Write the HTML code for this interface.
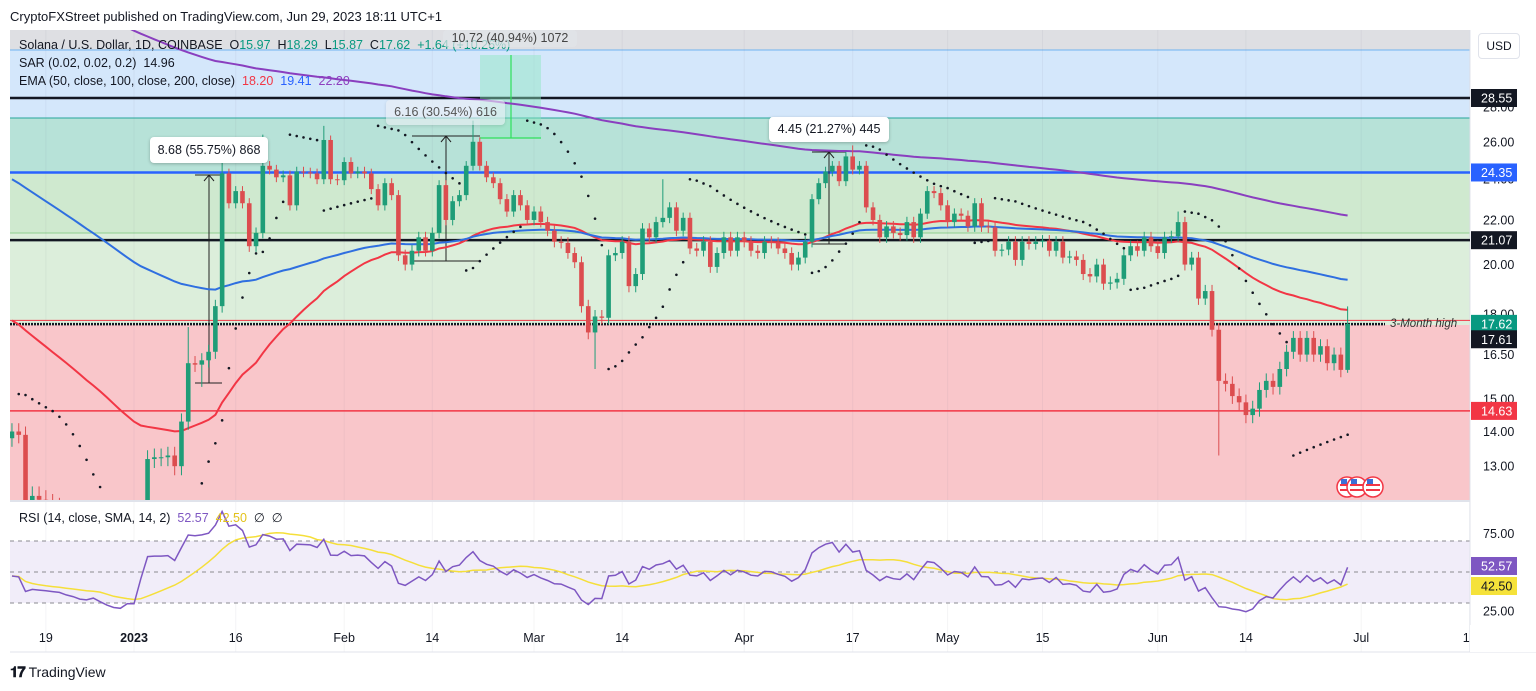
<!DOCTYPE html>
<html><head><meta charset="utf-8"><style>
html,body{margin:0;padding:0;background:#fff;width:1536px;height:691px;overflow:hidden;font-family:"Liberation Sans",sans-serif;}
#wrap{position:relative;width:1536px;height:691px;}
.t{position:absolute;white-space:nowrap;font-size:12.5px;color:#131722;}
svg{position:absolute;left:0;top:0;}
</style></head><body>
<div id="wrap">
<svg id="svg" width="1536" height="691"></svg>
<div class="t" style="left:10px;top:9px;font-size:13px">CryptoFXStreet published on TradingView.com, Jun 29, 2023 18:11 UTC+1</div>
<div class="t" style="left:19px;top:38px">Solana / U.S. Dollar, 1D, COINBASE&nbsp; O<span style="color:#089981">15.97</span>&nbsp; H<span style="color:#089981">18.29</span>&nbsp; L<span style="color:#089981">15.87</span>&nbsp; C<span style="color:#089981">17.62</span>&nbsp; <span style="color:#089981">+1.64 (+10.26%)</span></div>
<div class="t" style="left:19px;top:56px">SAR (0.02, 0.02, 0.2)&nbsp; 14.96</div>
<div class="t" style="left:19px;top:74px">EMA (50, close, 100, close, 200, close)&nbsp; <span style="color:#f23645">18.20</span>&nbsp; <span style="color:#2962ff">19.41</span>&nbsp; <span style="color:#8e3fbf">22.20</span></div>
<div class="t" style="left:19px;top:510px">RSI (14, close, SMA, 14, 2)&nbsp; <span style="color:#7e57c2">52.57</span>&nbsp; <span style="color:#e3c21a">42.50</span>&nbsp; ∅&nbsp; ∅</div>
<div class="t" style="left:1478px;top:33px;width:40px;height:24px;border:1px solid #e0e3eb;border-radius:4px;line-height:24px;text-align:center;font-size:12px">USD</div>
<div class="t" style="left:150px;top:137px;width:118px;height:26px;background:#fff;border-radius:4px;box-shadow:0 1px 3px rgba(0,0,0,.25);line-height:26px;text-align:center">8.68 (55.75%) 868</div>
<div class="t" style="left:386px;top:100px;width:119px;height:25px;background:rgba(235,240,245,.6);border-radius:4px;box-shadow:0 1px 3px rgba(0,0,0,.12);line-height:25px;text-align:center;color:#555">6.16 (30.54%) 616</div>
<div class="t" style="left:443px;top:30px;width:134px;height:17px;background:rgba(225,228,232,.7);border-radius:4px;line-height:17px;text-align:center;color:#444">10.72 (40.94%) 1072</div>
<div class="t" style="left:769px;top:117px;width:120px;height:25px;background:#fff;border-radius:4px;box-shadow:0 1px 3px rgba(0,0,0,.25);line-height:25px;text-align:center">4.45 (21.27%) 445</div>
<div class="t" style="left:1390px;top:318px;font-style:italic;font-size:11.5px;color:#333">3-Month high</div>
<div class="t" style="left:10px;top:664px;font-size:14px;font-weight:bold"><span style="font-size:15px;letter-spacing:-1px">𝟏𝟕</span> <span style="font-weight:normal">TradingView</span></div>
</div>
<script>
// ---- data ----
const closes = [14.0,13.9,12.0,12.2,12.1,12.0,11.9,11.8,11.5,11.3,11.0,10.9,11.0,10.6,10.2,9.9,9.8,10.0,10.0,11.3,
13.2,13.25,13.25,13.3,13.0,14.3,16.2,16.15,16.3,16.6,
18.3,24.3,22.8,23.4,22.8,20.8,21.4,24.7,24.5,24.1,
24.2,22.7,24.4,24.35,24.3,24.0,26.1,24.0,23.95,24.9,
24.3,24.4,24.3,23.5,22.7,23.8,23.2,20.4,20.0,20.6,
21.2,20.6,21.4,23.7,22.0,22.9,23.2,24.7,26.0,24.7,
24.1,23.8,23.0,22.4,23.2,22.7,22.0,22.4,21.9,21.5,
21.0,20.95,20.5,20.1,18.3,17.3,17.9,17.85,20.4,20.5,
21.0,19.1,19.6,21.6,21.2,21.9,22.1,22.6,21.5,22.1,
20.7,20.6,21.0,19.9,20.5,21.2,20.6,21.2,21.0,20.6,
20.5,21.0,20.95,20.7,20.5,20.0,20.3,21.0,23.0,23.8,
24.4,24.7,23.9,25.2,24.5,24.7,22.6,22.0,21.2,21.7,
21.4,21.3,21.9,21.2,22.3,23.4,23.3,22.7,21.9,22.3,
22.2,21.7,22.8,21.7,21.65,20.6,20.65,21.0,20.2,21.0,
20.9,21.0,21.05,20.6,21.0,20.3,20.35,20.2,19.6,19.5,
20.0,19.2,19.25,19.4,20.4,20.8,20.6,21.2,20.8,20.5,
21.2,21.25,21.9,20.0,20.3,18.6,18.9,17.4,15.6,15.5,
15.1,14.9,14.5,14.7,15.3,15.6,15.4,16.0,16.6,17.1,
16.5,17.1,16.5,16.8,16.2,16.5,15.97,17.62];
const firstOpen = 13.8;
const highBack = [171,166,160,151,129,101,73,25,0];
const highVals = [17.5,24.9,26.4,26.9,27.2,24.0,25.8,22.4,18.29];
const lowBack = [169,111,19,0];
const lowVals = [15.4,16.0,13.3,15.87];
const priceTicks = [28,26,24,22,20,18,16.5,15,14,13];
const priceTickLabels = ["28.00","26.00","24.00","22.00","20.00","18.00","16.50","15.00","14.00","13.00"];
const timeTickDays = [-13,0,15,31,44,59,72,90,106,120,134,151,164,181,197];
const timeTickLabels = ["19","2023","16","Feb","14","Mar","14","Apr","17","May","15","Jun","14","Jul","17"];
const emaSeeds = [17.9,24.2,37.5];
const levelPrices = [28.55,24.35,21.07,14.63];
const levelColors = ["#131722","#2962ff","#131722","#f23645"];
const lastDay = 179;

// ---- scales ----
const X0=134, DX=6.78;
const xDay = d => X0 + DX*d;
const n = closes.length;
const xIdx = i => xDay(lastDay-(n-1-i));
const yP = p => 98 + Math.log(28.55/p)*468;
const yR = v => 572 - (v-50)*1.55;

const svg=document.getElementById('svg');
const NS='http://www.w3.org/2000/svg';
function mk(tag,attrs,parent){const e=document.createElementNS(NS,tag);for(const k in attrs)e.setAttribute(k,attrs[k]);(parent||svg).appendChild(e);return e;}

// defs clip
const defs=mk('defs',{});
const cp=mk('clipPath',{id:'pc'},defs);mk('rect',{x:10,y:30,width:1460,height:470},cp);
const cr=mk('clipPath',{id:'rc'},defs);mk('rect',{x:10,y:502,width:1460,height:122},cr);

// backgrounds
let e;
e=mk('rect',{x:10,y:30,width:1460,height:20,fill:'#dedfe3'});


e=mk('rect',{x:10,y:50,width:1460,height:68,fill:'#d4e7fb'});


e=mk('rect',{x:10,y:118,width:1460,height:yP(24.35)-118,fill:'#b7e2d8'});


e=mk('rect',{x:10,y:yP(24.35),width:1460,height:233-yP(24.35),fill:'#cfe9cf'});


e=mk('rect',{x:10,y:233,width:1460,height:92,fill:'#dceedb'});


e=mk('rect',{x:10,y:325,width:1460,height:175,fill:'#f9c6ca'});


e=mk('line',{x1:10,x2:1470,y1:50,y2:50,stroke:'#6fb3f2','stroke-width':1});


e=mk('line',{x1:10,x2:1470,y1:118,y2:118,stroke:'#26a69a','stroke-width':1});


e=mk('line',{x1:10,x2:1470,y1:233,y2:233,stroke:'#8fcf8f','stroke-width':1});



// grid
timeTickDays.forEach((d,i)=>{
  const g=mk('line',{x1:xDay(d),x2:xDay(d),y1:30,y2:652,stroke:'rgba(120,120,140,0.08)','stroke-width':1});
  
  
});

// RSI pane bg
e=mk('rect',{x:10,y:yR(70),width:1460,height:yR(30)-yR(70),fill:'#f1edf9'});


[70,50,30].forEach(v=>{
  const l=mk('line',{x1:10,x2:1470,y1:yR(v),y2:yR(v),stroke:'#8a8a90','stroke-width':1,'stroke-dasharray':'4,4'});
  
  
});
e=mk('line',{x1:10,x2:1470,y1:501,y2:501,stroke:'#e0e3eb','stroke-width':2});


e=mk('line',{x1:10,x2:1536,y1:652,y2:652,stroke:'#e0e3eb','stroke-width':1});


e=mk('line',{x1:1470,x2:1470,y1:30,y2:652,stroke:'#e0e3eb','stroke-width':1});



// OHLC
const opens=closes.map((c,i)=>i===0?firstOpen:closes[i-1]);
const highs=closes.map((c,i)=>Math.max(c,opens[i])+0.25);
const lows=closes.map((c,i)=>Math.min(c,opens[i])-0.25);
highBack.forEach((b,k)=>{highs[n-1-b]=Math.max(highVals[k],highs[n-1-b]-0.25);});
lowBack.forEach((b,k)=>{lows[n-1-b]=Math.min(lowVals[k],lows[n-1-b]+0.25);});

const pg=mk('g',{'clip-path':'url(#pc)'});



// level lines
levelPrices.forEach((p,i)=>{
  const l=mk('line',{x1:10,x2:1470,y1:yP(p),y2:yP(p),stroke:levelColors[i],'stroke-width':i===3?1.5:2.5},pg);
  
  
});
e=mk('line',{x1:10,x2:1470,y1:yP(17.75),y2:yP(17.75),stroke:'#f23645','stroke-width':1},pg);


e=mk('line',{x1:10,x2:1385,y1:yP(17.61),y2:yP(17.61),stroke:'#131722','stroke-width':2.5,'stroke-dasharray':'2,1'},pg);



// annotations (measure tools)
e=mk('rect',{x:480,y:55,width:61,height:83,fill:'rgba(140,230,190,0.45)'},pg);


e=mk('path',{d:'M511 55 V138 M480 138 H541',stroke:'#2ee05a','stroke-width':1.2,fill:'none'},pg);


[[209,195,222,175,383],[446,412,480,136,261],[829,812,846,152,244]].forEach((m,i)=>{
  const p=mk('path',{d:`M${m[1]} ${m[3]} H${m[2]} M${m[1]} ${m[4]} H${m[2]} M${m[0]} ${m[4]} V${m[3]} M${m[0]-5} ${m[3]+6} L${m[0]} ${m[3]} L${m[0]+5} ${m[3]+6}`,stroke:'#222','stroke-width':1,fill:'none'},pg);
  
  
});

// EMAs
const emaPeriods=[50,100,200];
const emaColors=['#f23645','#2f6fe0','#8a3fbf'];
emaPeriods.forEach((per,k)=>{
  const a=2/(per+1);let v=emaSeeds[k];const pts=[];
  closes.forEach((c,i)=>{v=v+a*(c-v);pts.push(xIdx(i).toFixed(1)+','+yP(v).toFixed(1));});
  const pl=mk('polyline',{points:pts.join(' '),fill:'none',stroke:emaColors[k],'stroke-width':2},pg);
  
  
});

// candles
closes.forEach((c,i)=>{
  const o=opens[i],up=c>=o,col=up?'#1f9d78':'#dc4d4f',x=xIdx(i);
  const w=mk('line',{x1:x,x2:x,y1:yP(highs[i]),y2:yP(lows[i]),stroke:col,'stroke-width':1},pg);
  
  
  const yt=yP(Math.max(o,c)),yb=yP(Math.min(o,c));
  const b=mk('rect',{x:x-2.3,y:yt,width:4.6,height:Math.max(1,yb-yt),fill:col},pg);
  
  
});

// Parabolic SAR
(function(){
  let trend=-1,sar=15.2,ep=lows[0],af=0.02;
  for(let i=1;i<n;i++){
    sar=sar+af*(ep-sar);
    if(trend<0){
      sar=Math.max(sar,highs[i-1]);
      if(highs[i]>sar){trend=1;sar=ep;ep=highs[i];af=0.02;}
      else if(lows[i]<ep){ep=lows[i];af=Math.min(0.2,af+0.02);}
    }else{
      sar=Math.min(sar,lows[i-1]);
      if(lows[i]<sar){trend=-1;sar=ep;ep=lows[i];af=0.02;}
      else if(highs[i]>ep){ep=highs[i];af=Math.min(0.2,af+0.02);}
    }
    const d=mk('circle',{cx:xIdx(i),cy:yP(sar),r:1.3,fill:'#131722'},pg);
    
    
  }
})();

// flags
[1347,1357,1373].forEach((fx,i)=>{
  const g=mk('g',{},svg);
  
  
  mk('circle',{cx:fx,cy:487,r:10,fill:'#fff',stroke:'#f23645','stroke-width':1.5},g);
  mk('rect',{x:fx-7,y:484,width:14,height:2,fill:'#f23645'},g);
  mk('rect',{x:fx-7,y:489,width:14,height:2,fill:'#f23645'},g);
  mk('rect',{x:fx-6,y:479,width:6,height:5,fill:'#3d6fd6'},g);
});

// RSI
const rsi=[];
(function(){let ag=0.3,al=0.35;
  closes.forEach((c,i)=>{const ch=c-opens[i];const g=Math.max(ch,0),l=Math.max(-ch,0);
    ag=(ag*13+g)/14;al=(al*13+l)/14;rsi.push(100-100/(1+ag/al));});
})();
const rsiSma=rsi.map((v,i)=>{const s=rsi.slice(Math.max(0,i-13),i+1);return s.reduce((a,b)=>a+b,0)/s.length;});
const rg=mk('g',{'clip-path':'url(#rc)'});


e=mk('polyline',{points:rsiSma.map((v,i)=>xIdx(i).toFixed(1)+','+yR(v).toFixed(1)).join(' '),fill:'none',stroke:'#f5df3a','stroke-width':1.5},rg);


e=mk('polyline',{points:rsi.map((v,i)=>xIdx(i).toFixed(1)+','+yR(v).toFixed(1)).join(' '),fill:'none',stroke:'#7e57c2','stroke-width':1.5},rg);



// axes labels
priceTicks.forEach((p,i)=>{
  const t=mk('text',{x:1483,y:yP(p)+4.5,'font-size':12.5,fill:'#131722','font-family':'Liberation Sans, sans-serif'});
  t.textContent=priceTickLabels[i];
  
  
});
const boxes=[[28.55,'#131722','#fff','28.55'],[24.35,'#2962ff','#fff','24.35'],[21.07,'#131722','#fff','21.07'],[17.62,'#089981','#fff','17.62'],[17.05,'#131722','#fff','17.61'],[14.63,'#f23645','#fff','14.63']];
boxes.forEach(b=>{
  const y=yP(b[0]);
  const r=mk('rect',{x:1471,y:y-9,width:46,height:18,fill:b[1]});
  
  
  const t=mk('text',{x:1481,y:y+4.5,'font-size':12.5,fill:b[2],'font-family':'Liberation Sans, sans-serif'});
  t.textContent=b[3];
  
  
});
[[75,'75.00'],[25,'25.00']].forEach(r=>{
  const t=mk('text',{x:1483,y:yR(r[0])+4.5,'font-size':12.5,fill:'#131722','font-family':'Liberation Sans, sans-serif'});
  t.textContent=r[1];
  
  
});
[[rsi[n-1],'#7e57c2','#fff','52.57',566],[rsiSma[n-1],'#f5e23a','#131722','42.50',586]].forEach(b=>{
  const r=mk('rect',{x:1471,y:b[4]-9,width:46,height:18,fill:b[1]});
  
  
  const t=mk('text',{x:1481,y:b[4]+4.5,'font-size':12.5,fill:b[2],'font-family':'Liberation Sans, sans-serif'});
  t.textContent=b[3];
  
  
});
timeTickDays.forEach((d,i)=>{
  const t=mk('text',{x:xDay(d),y:642,'font-size':12.5,fill:'#131722','text-anchor':'middle','font-weight':timeTickLabels[i]==='2023'?'bold':'normal','font-family':'Liberation Sans, sans-serif'});
  t.textContent=timeTickLabels[i];
  
  
});
e=mk('rect',{x:1470,y:625,width:66,height:27,fill:'#fff'});


</script>
</body></html>
